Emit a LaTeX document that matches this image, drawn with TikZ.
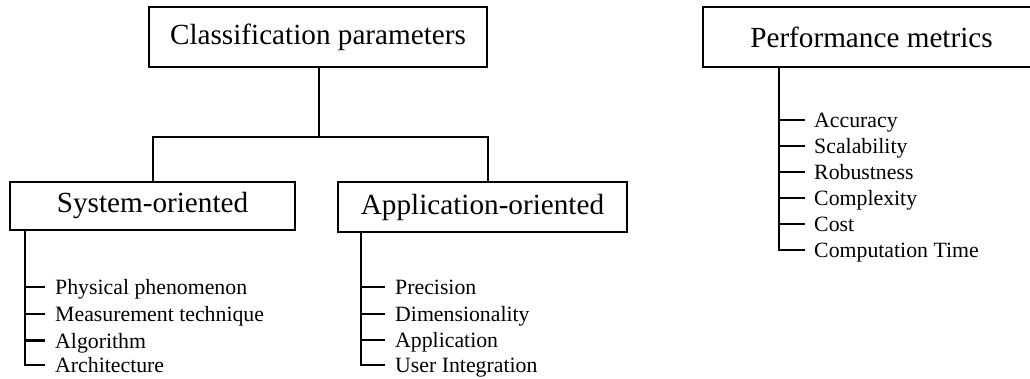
\documentclass[tikz,border=0pt]{standalone}
\usepackage{fontspec}
\setmainfont{Liberation Serif}
\begin{document}
\begin{tikzpicture}[x=1pt,y=-1pt,
  box/.style={draw,line width=2.3pt,rectangle,inner sep=0pt,font=\fontsize{29.2}{31}\selectfont},
  conn/.style={line width=2.3pt},
  item/.style={anchor=base west,inner sep=0pt,font=\fontsize{21.8}{24}\selectfont}]
\clip (0,0) rectangle (1030,379);
% boxes
\node[box,minimum width=338pt,minimum height=60pt] (cls) at (318,37) {Classification parameters};
\node[box,minimum width=285pt,minimum height=48pt] (sys) at (152.5,206) {System-oriented};
\node[box,minimum width=289pt,minimum height=50pt] (app) at (482.5,207) {Application-oriented};
\node[box,minimum width=337pt,minimum height=60pt] (perf) at (871.5,37) {Performance metrics};
% tree connectors
\coordinate (bar) at (319,137);
\coordinate (sysin) at (153,182);
\coordinate (appin) at (488,182);
\draw[conn] (cls.south -| bar) -- (bar);
\draw[conn] (sysin) |- (bar) -| (appin);
% system list
\coordinate (sv) at (25,230);
\foreach \t [count=\i] in {287,314,340.5,365}{\coordinate (se\i) at (45,\t);}
\node[item] (s1) at (55,294.5) {Physical phenomenon};
\node[item] (s2) at (55,321.5) {Measurement technique};
\node[item] (s3) at (55,348) {Algorithm};
\node[item] (s4) at (55,372.5) {Architecture};
\draw[conn] (sv) |- (se4);
\foreach \i in {1,2,3}{\draw[conn] (sv |- se\i) -- (se\i);}
% application list
\coordinate (av) at (361,232);
\foreach \t [count=\i] in {287,314,340,365}{\coordinate (ae\i) at (385,\t);}
\node[item] (a1) at (395,294.5) {Precision};
\node[item] (a2) at (395,321.5) {Dimensionality};
\node[item] (a3) at (395,347.5) {Application};
\node[item] (a4) at (395,372.5) {User Integration};
\draw[conn] (av) |- (ae4);
\foreach \i in {1,2,3}{\draw[conn] (av |- ae\i) -- (ae\i);}
% performance list
\coordinate (pv) at (779,67);
\foreach \t [count=\i] in {120,146,172,198,224,250}{\coordinate (pe\i) at (805,\t);}
\node[item] (p1) at (814,127.5) {Accuracy};
\node[item] (p2) at (814,153.5) {Scalability};
\node[item] (p3) at (814,179.5) {Robustness};
\node[item] (p4) at (814,205.5) {Complexity};
\node[item] (p5) at (814,231.5) {Cost};
\node[item] (p6) at (814,257.5) {Computation Time};
\draw[conn] (pv) |- (pe6);
\foreach \i in {1,...,5}{\draw[conn] (pv |- pe\i) -- (pe\i);}
\end{tikzpicture}
\end{document}
